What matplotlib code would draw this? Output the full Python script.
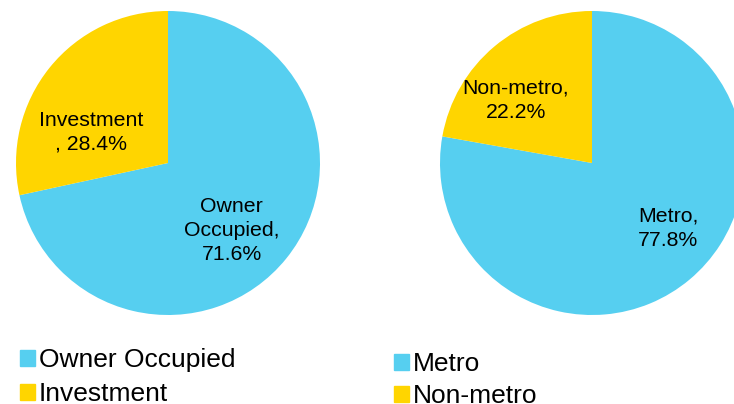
import matplotlib.pyplot as plt
from matplotlib.patches import Patch

plt.rcParams['font.family'] = ['Liberation Sans', 'DejaVu Sans']

# data
tenure_labels = ['Owner Occupied', 'Investment']
tenure_values = [71.6, 28.4]
tenure_text = ['Owner\nOccupied,\n71.6%', 'Investment\n, 28.4%']

region_labels = ['Metro', 'Non-metro']
region_values = [77.8, 22.2]
region_text = ['Metro,\n77.8%', 'Non-metro,\n22.2%']

colors = ['#56CFF0', '#FFD500']

W, H = 734, 404
fig = plt.figure(figsize=(W / 100, H / 100), dpi=100)


def px_axes(x0, y0, size):
    # position axes by pixel box (top-left origin)
    return fig.add_axes([x0 / W, 1 - (y0 + size) / H, size / W, size / H])


def draw_pie(ax, values, texts, label_pos):
    ax.pie(values, colors=colors, startangle=90, counterclock=False,
           radius=1, wedgeprops=dict(linewidth=0))
    for t, (x, y) in zip(texts, label_pos):
        ax.text(x, y, t, ha='center', va='center', fontsize=15.3,
                linespacing=1.33, color='black')
    ax.set_xlim(-1, 1)
    ax.set_ylim(-1, 1)
    ax.set_aspect('equal')
    ax.axis('off')


ax1 = px_axes(16, 11, 304)
draw_pie(ax1, tenure_values, tenure_text, [(0.42, -0.447), (-0.507, 0.204)])

ax2 = px_axes(440, 11, 304)
draw_pie(ax2, region_values, region_text, [(0.5, -0.428), (-0.5, 0.414)])

leg_kw = dict(loc='upper left', frameon=False, fontsize=19, handlelength=0.57,
              handleheight=0.57, handletextpad=0.15,
              borderaxespad=0, borderpad=0)

h1 = [Patch(color=c) for c in colors]
fig.legend(h1, tenure_labels, bbox_to_anchor=(20 / W, 1 - 348 / H),
           labelspacing=0.39, **leg_kw)
fig.legend(h1, region_labels, bbox_to_anchor=(394 / W, 1 - 352 / H),
           labelspacing=0.31, **leg_kw)

fig.savefig('out.png', dpi=100)
